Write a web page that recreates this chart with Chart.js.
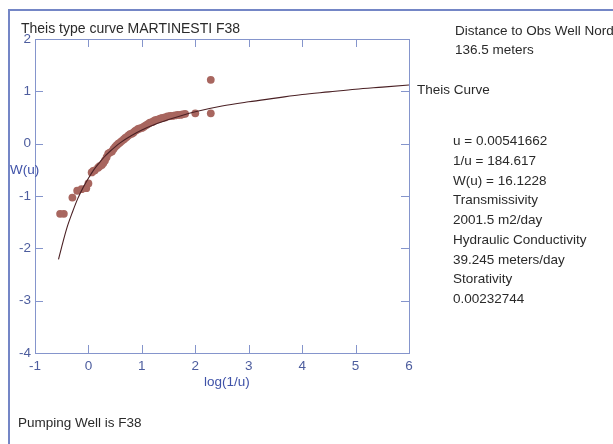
<!DOCTYPE html>
<html>
<head>
<meta charset="utf-8">
<script src="https://cdn.jsdelivr.net/npm/chart.js@4/dist/chart.umd.min.js"></script>
<style>
    body { margin: 0; background: #fff; }
    #wrap { position: relative; width: 613px; height: 444px; overflow: hidden; font-family: "Liberation Sans", Arial, sans-serif; color: #2a2a2a; }
    #frame { position: absolute; left: 8px; top: 9px; width: 620px; height: 450px; border-left: 2px solid #7486c6; border-top: 2px solid #7486c6; }
    #chart { position: absolute; left: 0; top: 0; }
    .txt { position: absolute; font-size: 13.5px; white-space: nowrap; line-height: 15px; }
    .blue { color: #3f52a8; }
</style>
</head>
<body>
<div id="wrap">
    <div id="frame"></div>
    <canvas id="chart" width="613" height="444"></canvas>
    <div class="txt" style="left:21px; top:21px; font-size:14px;">Theis type curve MARTINESTI F38</div>
    <div class="txt blue" style="left:10px; top:162px;">W(u)</div>
    <div class="txt blue" style="left:204px; top:374px;">log(1/u)</div>
    <div class="txt" style="left:417px; top:82px;">Theis Curve</div>
    <div class="txt" style="left:18px; top:415px;">Pumping Well is F38</div>
    <div id="info"></div>
</div>
<script>
    // observed points: log(1/u) vs log W(u)
    const obsX = [-0.53, -0.46, -0.30, -0.21, -0.13, -0.04, 0.00, 0.06, 0.09, 0.12, 0.18, 0.21, 0.25, 0.28, 0.31,
        0.34, 0.37, 0.40, 0.44, 0.47, 0.50, 0.53, 0.56, 0.59, 0.62, 0.66, 0.69, 0.72, 0.75, 0.78, 0.81, 0.84,
        0.87, 0.90, 0.93, 0.96, 1.00, 1.03, 1.06, 1.09, 1.12, 1.15, 1.19, 1.22, 1.25, 1.29, 1.34, 1.38, 1.43,
        1.48, 1.53, 1.57, 1.62, 1.67, 1.72, 1.76, 1.81, 2.00, 2.29, 2.29];
    const obsY = [-1.34, -1.34, -1.03, -0.90, -0.87, -0.85, -0.76, -0.55, -0.52, -0.51, -0.46, -0.43, -0.41, -0.37, -0.32,
        -0.26, -0.19, -0.17, -0.15, -0.10, -0.06, -0.03, 0.00, 0.02, 0.05, 0.08, 0.11, 0.13, 0.16, 0.18, 0.19, 0.21,
        0.24, 0.26, 0.28, 0.29, 0.30, 0.32, 0.34, 0.36, 0.38, 0.40, 0.41, 0.43, 0.45, 0.46, 0.48, 0.49, 0.50,
        0.52, 0.53, 0.53, 0.54, 0.55, 0.55, 0.56, 0.57, 0.58, 0.58, 1.22];

    // Theis type curve
    const curveX = [-0.56, -0.5, -0.4, -0.3, -0.2, -0.1, 0, 0.1, 0.2, 0.3, 0.4, 0.5, 0.6, 0.8, 1.0, 1.25, 1.5, 1.75,
        2.0, 2.5, 3.0, 3.5, 4.0, 4.5, 5.0, 5.5, 6.0];
    const curveY = [-2.21, -1.97, -1.60, -1.31, -1.05, -0.84, -0.66, -0.50, -0.37, -0.25, -0.15, -0.06, 0.02, 0.15, 0.26,
        0.37, 0.46, 0.54, 0.61, 0.72, 0.80, 0.87, 0.94, 0.99, 1.04, 1.08, 1.12];

    const xTicks = [-1, 0, 1, 2, 3, 4, 5, 6];
    const yTicks = [-4, -3, -2, -1, 0, 1, 2];

    const infoLines = ['Distance to Obs Well Nord', '136.5 meters', '', '', '', 'u = 0.00541662', '1/u = 184.617',
        'W(u) = 16.1228', 'Transmissivity', '2001.5 m2/day', 'Hydraulic Conductivity', '39.245 meters/day',
        'Storativity', '0.00232744'];

    const info = document.getElementById('info');
    const infoTops = [23, 42, 0, 0, 0, 133, 153, 173, 192, 212, 232, 252, 271, 291];
    infoLines.forEach(function (line, i) {
        if (!line) return;
        const d = document.createElement('div');
        d.className = 'txt';
        d.style.left = (i < 2 ? 455 : 453) + 'px';
        d.style.top = infoTops[i] + 'px';
        d.textContent = line;
        info.appendChild(d);
    });

    const axisColor = '#8595cc';
    const labelColor = '#4d5d9e';

    const innerTicks = {
        id: 'innerTicks',
        afterDraw(chart) {
            const ctx = chart.ctx;
            const a = chart.chartArea;
            const sx = chart.scales.x, sy = chart.scales.y;
            ctx.save();
            ctx.strokeStyle = axisColor;
            ctx.lineWidth = 1;
            ctx.strokeRect(Math.round(a.left) + 0.5, Math.round(a.top) + 0.5,
                Math.round(a.right - a.left), Math.round(a.bottom - a.top));
            ctx.beginPath();
            xTicks.slice(1, -1).forEach(function (v) {
                const px = Math.round(sx.getPixelForValue(v)) + 0.5;
                ctx.moveTo(px, a.bottom); ctx.lineTo(px, a.bottom - 8);
                ctx.moveTo(px, a.top); ctx.lineTo(px, a.top + 8);
            });
            yTicks.slice(1, -1).forEach(function (v) {
                const py = Math.round(sy.getPixelForValue(v)) + 0.5;
                ctx.moveTo(a.left, py); ctx.lineTo(a.left + 8, py);
                ctx.moveTo(a.right, py); ctx.lineTo(a.right - 8, py);
            });
            ctx.stroke();
            ctx.restore();
        }
    };

    new Chart(document.getElementById('chart').getContext('2d'), {
        type: 'scatter',
        data: {
            datasets: [{
                type: 'line',
                label: 'Theis Curve',
                data: curveX.map((x, i) => ({ x: x, y: curveY[i] })),
                borderColor: '#4a2024',
                borderWidth: 1.1,
                pointRadius: 0,
                fill: false,
                cubicInterpolationMode: 'monotone',
                order: 0
            }, {
                label: 'Observed',
                data: obsX.map((x, i) => ({ x: x, y: obsY[i] })),
                backgroundColor: '#a8665f',
                borderWidth: 0,
                pointRadius: 3.9,
                order: 1
            }]
        },
        options: {
            responsive: false,
            animation: false,
            layout: { padding: { left: 0, top: 39, right: 204, bottom: 0 } },
            scales: {
                x: {
                    type: 'linear',
                    min: -1, max: 6,
                    afterFit: function (s) { s.height = 91; },
                    afterBuildTicks: function (s) { s.ticks = xTicks.map(v => ({ value: v })); },
                    grid: { display: false, drawTicks: false },
                    border: { display: false },
                    ticks: { color: labelColor, font: { family: 'Liberation Sans', size: 13.5 }, padding: 5 }
                },
                y: {
                    type: 'linear',
                    min: -4, max: 2,
                    afterFit: function (s) { s.width = 35; },
                    afterBuildTicks: function (s) { s.ticks = yTicks.map(v => ({ value: v })); },
                    grid: { display: false, drawTicks: false },
                    border: { display: false },
                    ticks: { color: labelColor, font: { family: 'Liberation Sans', size: 13.5 }, padding: 4 }
                }
            },
            plugins: {
                legend: { display: false },
                tooltip: { enabled: false }
            }
        },
        plugins: [innerTicks]
    });
</script>
</body>
</html>
